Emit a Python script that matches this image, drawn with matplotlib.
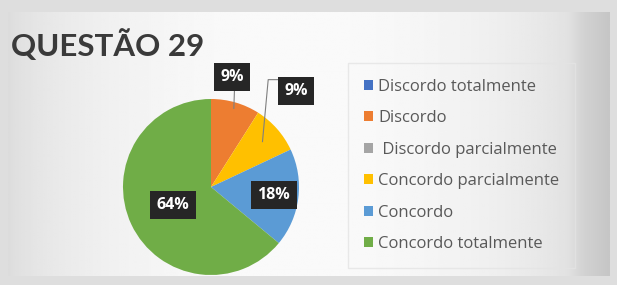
import numpy as np
import matplotlib
matplotlib.use("Agg")
import matplotlib.pyplot as plt
from matplotlib.patches import Patch

# data
categories = ["Discordo totalmente", "Discordo", " Discordo parcialmente",
              "Concordo parcialmente", "Concordo", "Concordo totalmente"]
values = [0, 9, 0, 9, 18, 64]
colors = ["#4472C4", "#ED7D31", "#A5A5A5", "#FFC000", "#5B9BD5", "#70AD47"]
title = "QUESTÃO 29"

plt.rcParams['font.family'] = ['Open Sans', 'DejaVu Sans']

fig = plt.figure(figsize=(6.17, 2.85), dpi=100)
fig.patch.set_facecolor("#dedede")

# background gradient for the chart area
bg = fig.add_axes([8/617, 9/285, 602/617, 264/285])
x = np.linspace(0, 1, 300)
grad = 0.86 + 0.12 * np.sin(np.pi * np.clip(x * 1.05, 0, 1)) ** 0.6
grad[x > 0.93] -= (x[x > 0.93] - 0.93) * 1.2
bg.imshow(np.tile(grad, (20, 1)), cmap="gray", vmin=0, vmax=1, aspect="auto",
          extent=[0, 1, 0, 1])
bg.axis("off")

fig.text(11/617, 1 - 45/285, title, fontsize=22.5, fontweight="bold",
         color="#3a3a3a", va="center", ha="left", family=["Lato", "DejaVu Sans"])

# pie
ax = fig.add_axes([(211 - 88)/617, (285 - 187 - 88)/285, 176/617, 176/285])
wedges, _ = ax.pie(values, colors=colors, startangle=90, counterclock=False,
                   radius=1.0)
ax.set_xlim(-1, 1)
ax.set_ylim(-1, 1)
ax.set_aspect("equal")

box = dict(boxstyle="square,pad=0.4", fc="#262626", ec="none")
lbl = dict(ha="center", va="center", color="white", fontsize=11.5,
           fontweight="bold", bbox=box, zorder=5)
total = sum(values)
start = 90.0
mids = []
for v in values:
    ext = 360.0 * v / total
    mids.append(np.deg2rad(start - ext / 2))
    start -= ext

# Discordo (orange) - outside label above
a = mids[1]
ax.plot([np.cos(a) * 0.93, 0.27], [np.sin(a) * 0.93, 1.2], color="#7f7f7f",
        lw=0.8, clip_on=False)
ax.text(0.24, 1.25, f"{values[1]}%", **lbl)
# Concordo parcialmente (yellow) - outside label right
a = mids[3]
ax.plot([0.78 * np.cos(a), 0.65, 0.85], [0.78 * np.sin(a), 1.22, 1.22],
        color="#7f7f7f", lw=0.8, clip_on=False)
ax.text(0.97, 1.09, f"{values[3]}%", **lbl)
# inside labels
for i, r in [(4, 0.72), (5, 0.48)]:
    a = mids[i]
    ax.text(r * np.cos(a), r * np.sin(a), f"{values[i]}%", **lbl)

handles = [Patch(facecolor=c, edgecolor="none") for c in colors]
leg = fig.legend(handles, categories, loc="upper left",
                 bbox_to_anchor=(348/617, 1 - 63/285), frameon=True,
                 fontsize=12, labelspacing=0.93, handlelength=0.55, handleheight=0.55,
                 handletextpad=0.3, borderpad=0.95, borderaxespad=0,
                 labelcolor="#595959")
leg.get_frame().set_facecolor("none")
leg.get_frame().set_edgecolor("#e4e4e4")
leg.get_frame().set_boxstyle("square,pad=0")

fig.savefig("out.png", dpi=100)
